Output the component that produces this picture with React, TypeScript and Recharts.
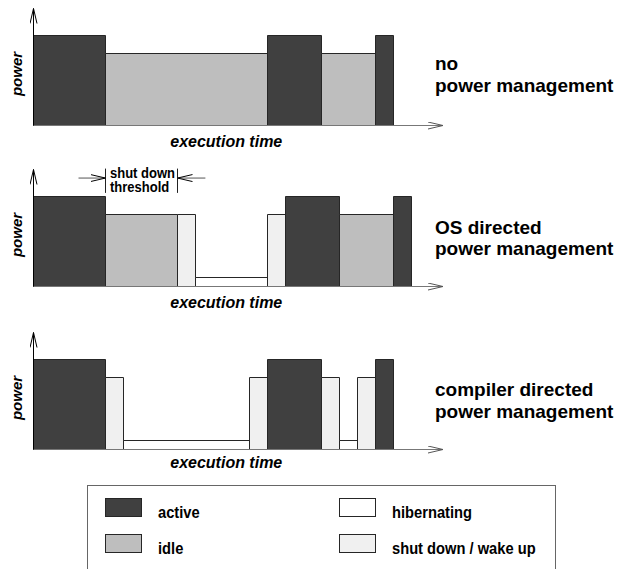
import { ComposedChart, XAxis, YAxis, ReferenceArea, ReferenceLine } from 'recharts'

// power states and their relative power level
const STATES = ['active', 'idle', 'hibernating', 'shutdown']
const STATE_LABELS = ['active', 'idle', 'hibernating', 'shut down / wake up']
const STATE_POWER = [1, 0.8, 0.1, 0.8]

// each panel: the state of every phase and the phase boundaries on the time axis
const NO_PM_STATES = ['active', 'idle', 'active', 'idle', 'active']
const NO_PM_BOUNDS = [0, 4, 13, 16, 19, 20]

const OS_PM_STATES = ['active', 'idle', 'shutdown', 'hibernating', 'shutdown', 'active', 'idle', 'active']
const OS_PM_BOUNDS = [0, 4, 8, 9, 13, 14, 17, 20, 21]

const COMPILER_PM_STATES = [
  'active', 'shutdown', 'hibernating', 'shutdown', 'active', 'shutdown', 'hibernating', 'shutdown', 'active',
]
const COMPILER_PM_BOUNDS = [0, 4, 5, 12, 13, 16, 17, 18, 19, 20]

const PANEL_TITLES = [
  ['no', 'power management'],
  ['OS directed', 'power management'],
  ['compiler directed', 'power management'],
]
const THRESHOLD_TEXT = ['shut down', 'threshold']
const X_LABEL = 'execution time'
const Y_LABEL = 'power'

const X_MAX = 22.75
const Y_MAX = 1.3

const FILL: Record<string, string> = {
  active: '#404040',
  idle: '#bebebe',
  hibernating: '#ffffff',
  shutdown: '#f0f0f0',
}

const SANS = "'Liberation Sans', Arial, Helvetica, sans-serif"

function toSegments(states: string[], bounds: number[]) {
  return states.map((s, i) => ({
    state: s,
    start: bounds[i],
    end: bounds[i + 1],
    power: STATE_POWER[STATES.indexOf(s)],
  }))
}

interface Seg { state: string; start: number; end: number; power: number }

// narrow text: there is no narrow font installed, so squeeze Liberation Sans
function NarrowText({ x, y, size, sx, bold, children }: {
  x: number; y: number; size: number; sx: number; bold?: boolean; children: React.ReactNode
}) {
  return (
    <text
      transform={`translate(${x},${y}) scale(${sx},1)`}
      fontFamily={SANS}
      fontSize={size}
      fontWeight={bold ? 'bold' : 'normal'}
      fill="#000"
    >
      {children}
    </text>
  )
}

function Panel({ segments, top, labelDy, children }: {
  segments: Seg[]; top: number; labelDy: number; children?: React.ReactNode
}) {
  return (
    <div style={{ position: 'absolute', left: 0, top }}>
      <ComposedChart
        width={631}
        height={158}
        data={segments}
        margin={{ top: 8.5, right: 188, bottom: 0.5, left: 0.5 }}
      >
        <XAxis
          type="number"
          dataKey="start"
          domain={[0, X_MAX]}
          allowDataOverflow
          tick={false}
          tickLine={false}
          height={32}
          axisLine={{ stroke: '#777', markerEnd: 'url(#arrow-gray)' }}
          label={{
            value: X_LABEL, position: 'center', dx: -12, dy: labelDy,
            fontFamily: SANS, fontSize: 16, fontWeight: 'bold', fontStyle: 'italic', fill: '#000',
          }}
        />
        <YAxis
          type="number"
          domain={[0, Y_MAX]}
          allowDataOverflow
          tick={false}
          tickLine={false}
          width={33}
          axisLine={{ stroke: '#000', markerStart: 'url(#arrow-black)' }}
          label={{
            value: Y_LABEL, position: 'center', angle: -90, dy: 7,
            fontFamily: SANS, fontSize: 15, fontWeight: 'bold', fontStyle: 'italic', fill: '#000',
          }}
        />
        {segments.map((s, i) => (
          <ReferenceArea
            key={i}
            x1={s.start}
            x2={s.end}
            y1={0}
            y2={s.power}
            fill={FILL[s.state]}
            fillOpacity={1}
            stroke="#262626"
            strokeWidth={1}
            ifOverflow="visible"
          />
        ))}
        {children}
      </ComposedChart>
    </div>
  )
}

export default function App() {
  const panels = [
    toSegments(NO_PM_STATES, NO_PM_BOUNDS),
    toSegments(OS_PM_STATES, OS_PM_BOUNDS),
    toSegments(COMPILER_PM_STATES, COMPILER_PM_BOUNDS),
  ]
  const titleY = [[70, 92], [233.5, 255], [396, 417.5]]

  return (
    <div style={{ position: 'absolute', left: 0, top: 0, width: 631, height: 569, background: '#fff', overflow: 'hidden' }}>
      <svg width={0} height={0} style={{ position: 'absolute' }}>
        <defs>
          <marker id="arrow-black" markerUnits="userSpaceOnUse" markerWidth={16} markerHeight={8}
            viewBox="0 0 16 8" refX={15} refY={4} orient="auto-start-reverse">
            <path d="M0,0.5 L15,4 L0,7.5" fill="none" stroke="#000" strokeWidth={1} />
          </marker>
          <marker id="arrow-gray" markerUnits="userSpaceOnUse" markerWidth={16} markerHeight={8}
            viewBox="0 0 16 8" refX={15} refY={4} orient="auto-start-reverse">
            <path d="M0,0.5 L15,4 L0,7.5" fill="none" stroke="#555" strokeWidth={1} />
          </marker>
        </defs>
      </svg>

      <Panel segments={panels[0]} top={0} labelDy={0} />
      <Panel segments={panels[1]} top={161} labelDy={-0.5}>
        {/* shut down threshold markers */}
        <ReferenceLine segment={[{ x: 4, y: 1.04 }, { x: 4, y: 1.31 }]} stroke="#222" ifOverflow="visible" />
        <ReferenceLine segment={[{ x: 8, y: 1.04 }, { x: 8, y: 1.31 }]} stroke="#222" ifOverflow="visible" />
        <ReferenceLine segment={[{ x: 2.5, y: 1.205 }, { x: 4, y: 1.205 }]} stroke="#555"
          markerEnd="url(#arrow-black)" ifOverflow="visible" />
        <ReferenceLine segment={[{ x: 9.55, y: 1.205 }, { x: 8, y: 1.205 }]} stroke="#555"
          markerEnd="url(#arrow-black)" ifOverflow="visible" />
      </Panel>
      <Panel segments={panels[2]} top={324} labelDy={-3} />

      <svg width={631} height={569} style={{ position: 'absolute', left: 0, top: 0, pointerEvents: 'none' }}>
        {PANEL_TITLES.map((lines, p) =>
          lines.map((t, j) => (
            <text key={`${p}-${j}`} x={435} y={titleY[p][j]} fontFamily={SANS} fontSize={19} fontWeight="bold" fill="#000">
              {t}
            </text>
          )),
        )}
        {THRESHOLD_TEXT.map((t, j) => (
          <NarrowText key={t} x={110} y={177.5 + j * 14.5} size={14} sx={0.93} bold>{t}</NarrowText>
        ))}

        {/* legend */}
        <rect x={87.5} y={485.5} width={468} height={100} fill="none" stroke="#666" strokeWidth={1} />
        {STATES.map((s, i) => {
          const col = Math.floor(i / 2)
          const row = i % 2
          const sx = col === 0 ? 105.5 : 339.5
          const sy = row === 0 ? 498.5 : 534.5
          return (
            <g key={s}>
              <rect x={sx} y={sy} width={36} height={18} fill={FILL[s]} stroke="#262626" strokeWidth={1} />
              <NarrowText x={sx + 52.5} y={sy + 19} size={17} sx={0.865} bold>
                {STATE_LABELS[i]}
              </NarrowText>
            </g>
          )
        })}
      </svg>
    </div>
  )
}
